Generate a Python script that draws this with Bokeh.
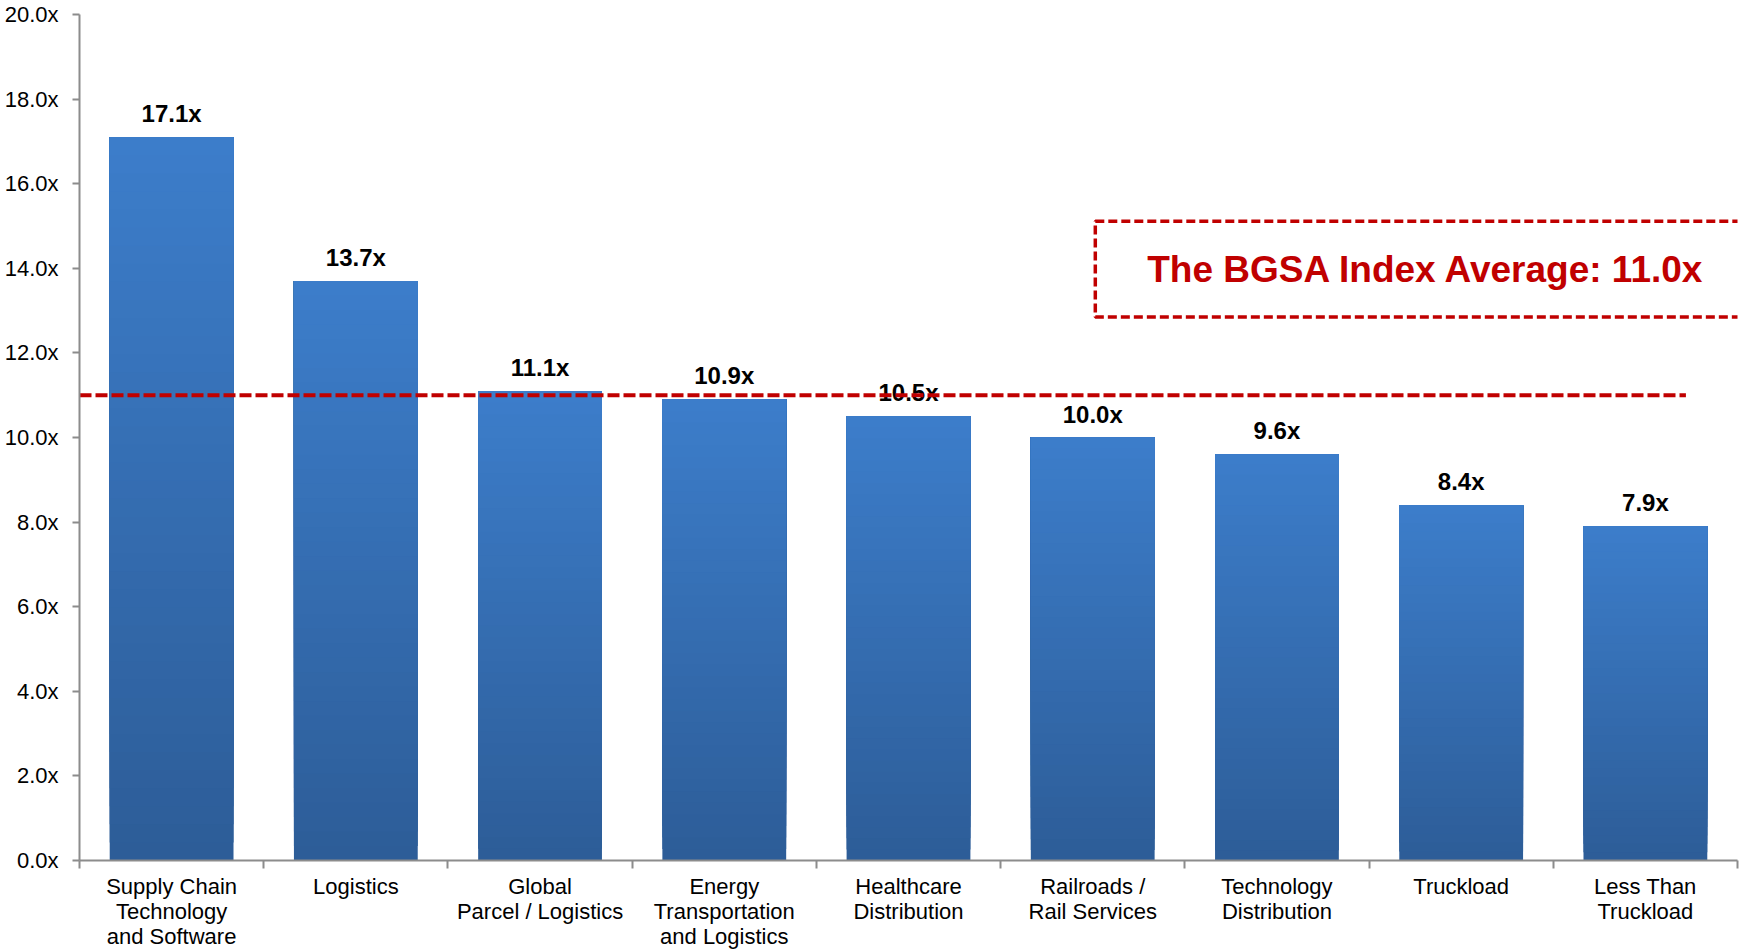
from bokeh.plotting import figure
from bokeh.models import Range1d, FixedTicker, PrintfTickFormatter, CustomJSTickFormatter, ColumnDataSource
from bokeh.core.properties import value
from bokeh.embed import file_html
from bokeh.resources import INLINE

categories = [
    "Supply Chain\nTechnology\nand Software",
    "Logistics",
    "Global\nParcel / Logistics",
    "Energy\nTransportation\nand Logistics",
    "Healthcare\nDistribution",
    "Railroads /\nRail Services",
    "Technology\nDistribution",
    "Truckload",
    "Less Than\nTruckload",
]
multiples = [17.1, 13.7, 11.1, 10.9, 10.5, 10.0, 9.6, 8.4, 7.9]
value_labels = ["17.1x", "13.7x", "11.1x", "10.9x", "10.5x", "10.0x", "9.6x", "8.4x", "7.9x"]
index_average = 11.0
average_label = "The BGSA Index Average: 11.0x"
y_ticks = [0, 2, 4, 6, 8, 10, 12, 14, 16, 18, 20]

FONT = "Liberation Sans"
TOP = (0x3C, 0x7D, 0xCA)
BOT = (0x2D, 0x5D, 0x98)
N_SLICES = 40
BAR_W = 0.672

p = figure(width=1742, height=951, output_backend="svg", toolbar_location=None,
           x_range=Range1d(0, 9), y_range=Range1d(0, 20),
           min_border_left=79, min_border_top=14, min_border_bottom=90, min_border_right=5)
p.outline_line_color = None
p.xgrid.visible = False
p.ygrid.visible = False
p.background_fill_color = "white"
p.border_fill_color = "white"

# gradient bars via overlapping slices (each from its level up to the bar top)
xs, bots, tops, cols = [], [], [], []
for k in range(N_SLICES):
    t = k / (N_SLICES - 1)
    c = tuple(int(round(BOT[j] + (TOP[j] - BOT[j]) * t)) for j in range(3))
    for i, v in enumerate(multiples):
        xs.append(i + 0.5)
        bots.append(v * k / N_SLICES)
        tops.append(v)
        cols.append("#%02x%02x%02x" % c)
p.vbar(x=xs, bottom=bots, top=tops, width=BAR_W, fill_color=cols, line_color=None)

# value labels
src = ColumnDataSource(dict(x=[i + 0.5 for i in range(len(multiples))], y=multiples, t=value_labels))
p.text(x="x", y="y", text="t", source=src, text_align="center", text_baseline="bottom",
       y_offset=-10, text_font=value(FONT), text_font_style="bold", text_font_size="24px",
       text_color="black")

# average line
p.segment(x0=[0], x1=[8.72], y0=[index_average], y1=[index_average],
          line_color="#C00000", line_width=4, line_dash="12 4")

# callout box
p.quad(left=[5.514], right=[9.3], bottom=[12.85], top=[15.11], fill_color=None,
       line_color="#C00000", line_width=3.5, line_dash="9 4")
p.text(x=[7.31], y=[13.96], text=[average_label], text_align="center", text_baseline="middle",
       text_font=value(FONT), text_font_style="bold", text_font_size="37px",
       text_color="#C00000")

# y axis
ya = p.yaxis[0]
ya.ticker = FixedTicker(ticks=y_ticks, minor_ticks=[])
ya.formatter = PrintfTickFormatter(format="%.1fx")
ya.major_label_text_font = FONT
ya.major_label_text_font_size = "22px"
ya.major_label_text_color = "black"
ya.axis_line_color = "#8C8C8C"
ya.axis_line_width = 2
ya.major_tick_line_color = "#8C8C8C"
ya.major_tick_line_width = 2
ya.major_tick_out = 7
ya.major_tick_in = 0
ya.major_label_standoff = 14

# x axis
xa = p.xaxis[0]
xa.ticker = FixedTicker(ticks=[i + 0.5 for i in range(len(categories))],
                        minor_ticks=list(range(len(categories) + 1)))
xa.formatter = CustomJSTickFormatter(args=dict(labels=categories),
                                     code="return labels[Math.floor(tick)];")
xa.major_label_text_font = FONT
xa.major_label_text_font_size = "22px"
xa.major_label_text_color = "black"
xa.major_label_text_line_height = 1.0
xa.axis_line_color = "#8C8C8C"
xa.axis_line_width = 2
xa.major_tick_out = 0
xa.major_tick_in = 0
xa.minor_tick_out = 8
xa.minor_tick_in = 0
xa.minor_tick_line_color = "#8C8C8C"
xa.minor_tick_line_width = 2
xa.major_label_standoff = 5

open("out.html", "w").write(file_html(p, INLINE))
